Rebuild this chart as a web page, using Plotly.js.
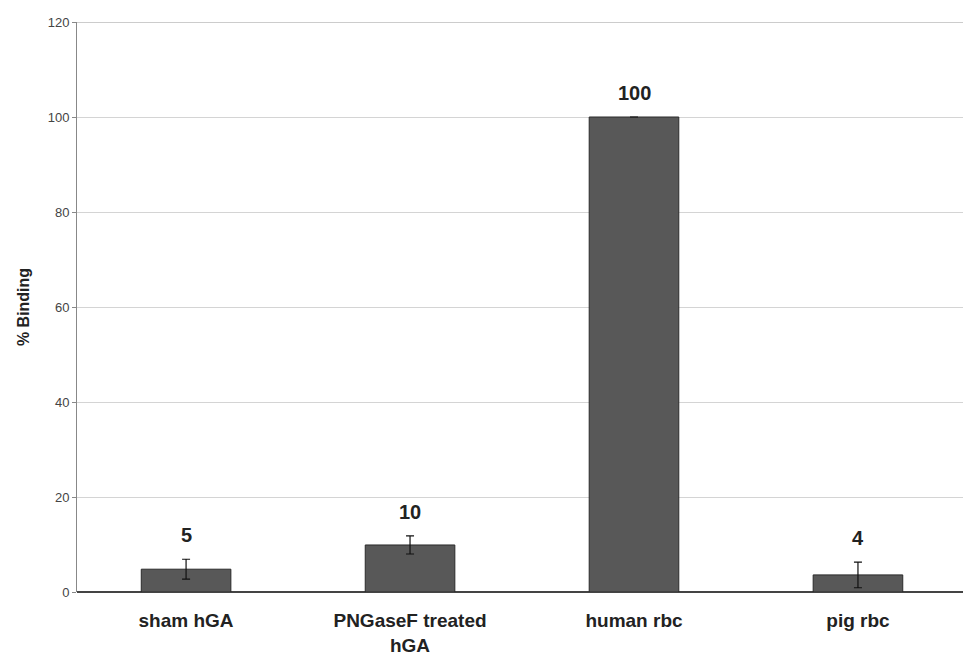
<!DOCTYPE html>
<html><head><meta charset="utf-8">
<script src="https://cdn.plot.ly/plotly-3.0.1.min.js"></script>
<style>body{margin:0;background:#fff}#c{width:963px;height:657px}</style>
</head><body><div id="c"></div>
<script>
const categories = ["sham hGA", "PNGaseF treated<br>hGA", "human rbc", "pig rbc"];
const values = [4.8, 9.9, 100, 3.6];
const errors = [2.1, 1.9, 0, 2.7];
const valueLabels = ["5", "10", "100", "4"];
const yTicks = [0, 20, 40, 60, 80, 100, 120];

const trace = {
  type: "bar",
  x: [0, 1, 2, 3],
  y: values,
  width: 0.4,
  marker: {color: "#585858", line: {color: "#2a2a2a", width: 1}},
  error_y: {type: "data", array: errors, visible: true, color: "#111", thickness: 1.2, width: 4},
  hoverinfo: "none"
};

const annotations = values.map((v, i) => ({
  x: i, y: v + errors[i], text: valueLabels[i], showarrow: false,
  yanchor: "bottom", yshift: 11, xref: "x", yref: "y",
  font: {family: "Liberation Sans, Arial", size: 20, color: "#222", weight: "bold"}
}));

const layout = {
  width: 963, height: 657,
  margin: {l: 77, r: 0, t: 22, b: 65},
  paper_bgcolor: "#fff", plot_bgcolor: "#fff",
  showlegend: false,
  font: {family: "Liberation Sans, Arial", color: "#333"},
  xaxis: {
    range: [-0.487, 3.469], tickvals: [0, 1, 2, 3], ticktext: categories,
    showgrid: false, zeroline: false, showline: false, ticks: "",
    ticklabelstandoff: 15,
    tickfont: {size: 19, color: "#222", weight: "bold"}
  },
  yaxis: {
    range: [0, 120], tickvals: yTicks, ticks: "outside", ticklen: 4, tickcolor: "#888",
    showgrid: true, gridcolor: "#d4d4d4", gridwidth: 1,
    showline: true, linecolor: "#888", linewidth: 1,
    zeroline: true, zerolinecolor: "#444", zerolinewidth: 1.5,
    tickfont: {size: 13, color: "#444"},
    title: {text: "% Binding", font: {size: 16, color: "#222", weight: "bold"}, standoff: 14}
  },
  shapes: [{type: "line", xref: "paper", yref: "y", x0: 0, x1: 1, y0: 120, y1: 120, line: {color: "#999", width: 1}}],
  annotations: annotations
};

Plotly.newPlot("c", [trace], layout, {displayModeBar: false, staticPlot: true});
</script></body></html>
